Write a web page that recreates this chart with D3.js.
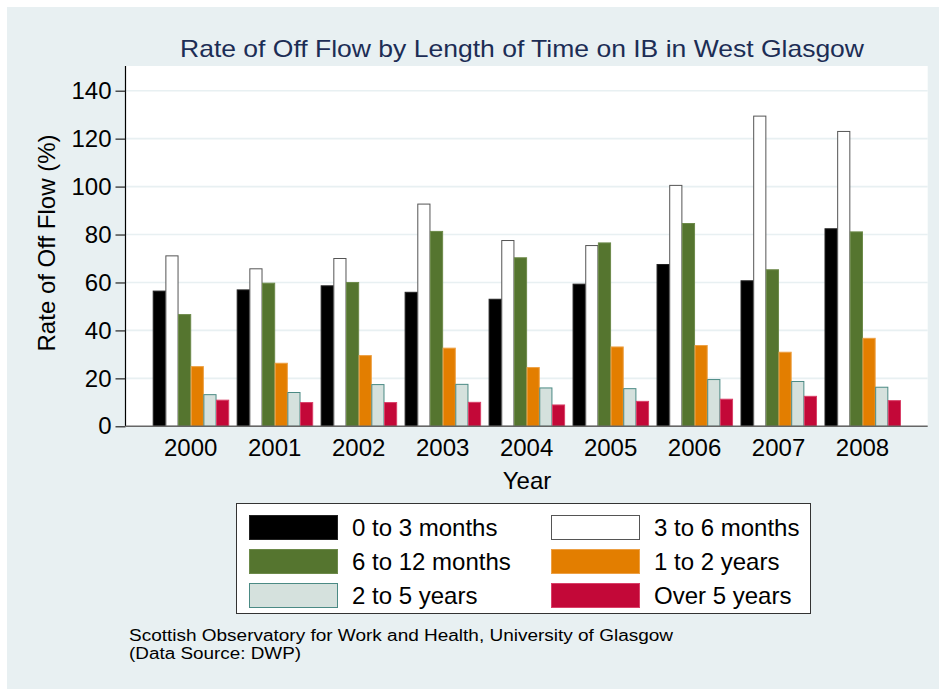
<!DOCTYPE html>
<html><head><meta charset="utf-8">
<script src="https://cdn.jsdelivr.net/npm/d3@7"></script>
<style>body{margin:0;background:#fff;}svg{display:block;font-family:"Liberation Sans",Arial,sans-serif;}</style>
</head><body>
<script>
const years = ["2000","2001","2002","2003","2004","2005","2006","2007","2008"];
const seriesNames = ["0 to 3 months","3 to 6 months","6 to 12 months","1 to 2 years","2 to 5 years","Over 5 years"];
const s0to3 = [56.4,56.9,58.6,55.9,53.0,59.3,67.5,60.7,82.4];
const s3to6 = [71.1,65.7,70.0,92.7,77.5,75.4,100.5,129.4,123.0];
const s6to12 = [46.6,59.7,60.0,81.3,70.3,76.5,84.6,65.3,81.1];
const s1to2 = [24.9,26.3,29.5,32.6,24.5,33.1,33.7,30.9,36.7];
const s2to5 = [13.2,14.1,17.4,17.5,16.0,15.7,19.5,18.7,16.3];
const sOver5 = [10.9,9.9,9.9,10.0,8.9,10.4,11.3,12.5,10.7];
const yTicks = [0,20,40,60,80,100,120,140];
const seriesValues = [s0to3,s3to6,s6to12,s1to2,s2to5,sOver5];
const fills = ["#000000","#ffffff","#55752f","#e37e00","#d5e1dd","#c30838"];
const strokes = ["#222222","#555555","#6d8a4a","#eda044","#4b8a84","#d94068"];

const W=939,H=689;
const svg=d3.select("body").append("svg").attr("width",W).attr("height",H);
svg.append("rect").attr("x",7).attr("y",7).attr("width",W-7).attr("height",H-7).attr("fill","#e8f0f2");

const pL=125.5,pR=927.7,pT=66,pB=426.3;
svg.append("rect").attr("x",pL).attr("y",pT).attr("width",pR-pL).attr("height",pB-pT).attr("fill","#fff");

const y=d3.scaleLinear().domain([0,140]).range([pB,90.7]);
const x0=d3.scaleBand().domain(years).range([pL,pR]).paddingInner(0.095).paddingOuter(0.324);
const x1=d3.scaleBand().domain(d3.range(6)).range([0,x0.bandwidth()]);

// gridlines
svg.append("g").selectAll("line").data(yTicks.filter(d=>d>0)).join("line")
  .attr("x1",pL).attr("x2",pR).attr("y1",d=>y(d)).attr("y2",d=>y(d))
  .attr("stroke","#e8f0f2").attr("stroke-width",1.6);

// bars
const g=svg.append("g");
years.forEach((yr,i)=>{
  seriesValues.forEach((arr,s)=>{
    g.append("rect")
      .attr("x",x0(yr)+x1(s)+0.5).attr("y",y(arr[i]))
      .attr("width",x1.bandwidth()-0.5).attr("height",pB-y(arr[i]))
      .attr("fill",fills[s]).attr("stroke",strokes[s]).attr("stroke-width",1);
  });
});

// y axis
const yAxis=d3.axisLeft(y).tickValues(yTicks).tickSize(10).tickPadding(4);
const ya=svg.append("g").attr("transform",`translate(${pL},0)`).call(yAxis);
ya.select(".domain").attr("d",`M0,${pT}V${pB}`).attr("stroke","#000").attr("stroke-width",1.2);
ya.selectAll(".tick line").attr("stroke","#222").attr("stroke-width",1.2);
ya.selectAll(".tick text").attr("font-size",24).attr("fill","#000").attr("font-family","Liberation Sans, Arial, sans-serif");

// x axis
const xAxis=d3.axisBottom(x0).tickSize(0).tickPadding(13);
const xa=svg.append("g").attr("transform",`translate(0,${pB})`).call(xAxis);
xa.select(".domain").attr("d",`M${pL},0H${pR}`).attr("stroke","#666").attr("stroke-width",1.5);
xa.selectAll(".tick text").attr("font-size",24).attr("fill","#000").attr("font-family","Liberation Sans, Arial, sans-serif");

// titles
svg.append("text").attr("x",522).attr("y",57).attr("text-anchor","middle").attr("font-size",24)
  .attr("textLength",684).attr("lengthAdjust","spacingAndGlyphs")
  .attr("fill","#1c2d55").text("Rate of Off Flow by Length of Time on IB in West Glasgow");
svg.append("text").attr("x",527).attr("y",489).attr("text-anchor","middle").attr("font-size",24)
  .attr("fill","#000").text("Year");
svg.append("text").attr("transform","translate(55,243) rotate(-90)").attr("text-anchor","middle").attr("font-size",24)
  .attr("fill","#000").text("Rate of Off Flow (%)");

// legend
const lg=svg.append("g");
lg.append("rect").attr("x",236.5).attr("y",503.5).attr("width",574).attr("height",110).attr("fill","#fff").attr("stroke","#333").attr("stroke-width",1);
seriesNames.forEach((nm,s)=>{
  const col=s%2,row=Math.floor(s/2);
  const sx=col===0?249:551, sy=515+row*34;
  lg.append("rect").attr("x",sx+0.5).attr("y",sy+0.5).attr("width",88).attr("height",24)
    .attr("fill",fills[s]).attr("stroke",strokes[s]).attr("stroke-width",1);
  lg.append("text").attr("x",sx+103).attr("y",sy+21).attr("font-size",24).attr("fill","#000").text(nm);
});

// note
svg.append("text").attr("x",129).attr("y",641).attr("font-size",16).attr("fill","#000")
  .attr("textLength",544).attr("lengthAdjust","spacingAndGlyphs")
  .text("Scottish Observatory for Work and Health, University of Glasgow");
svg.append("text").attr("x",129).attr("y",659).attr("font-size",16).attr("fill","#000")
  .attr("textLength",172).attr("lengthAdjust","spacingAndGlyphs")
  .text("(Data Source: DWP)");
</script>
</body></html>
